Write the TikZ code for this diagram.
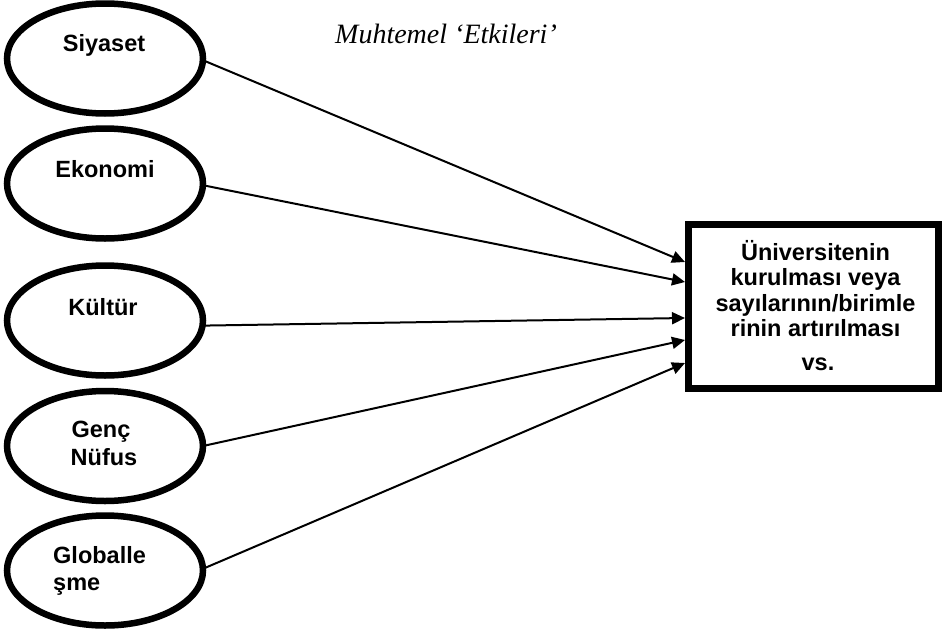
\documentclass[tikz,border=0pt]{standalone}
\usepackage{fontspec}
\setmainfont{Liberation Sans}
\newfontfamily\titlefont{Liberation Serif}
\usetikzlibrary{shapes.geometric,arrows.meta}
\tikzset{
  oval/.style={draw, ellipse, line width=6.5pt, minimum width=196pt, minimum height=110pt, inner sep=0pt, outer sep=0pt},
  target/.style={draw, rectangle, line width=6.5pt, minimum width=250pt, minimum height=164pt, inner sep=0pt, outer sep=0pt},
  lbl/.style={anchor=base, inner sep=0pt, font=\fontsize{23.5}{25}\selectfont\bfseries},
  lblw/.style={lbl, anchor=base west},
  arr/.style={line width=2pt, -{Triangle[length=13pt,width=12pt]}},
}
\begin{document}
\begin{tikzpicture}[x=1pt,y=-1pt]
\useasboundingbox (0,0) rectangle (942,632);
% title
\node[anchor=base west, inner sep=0pt, font=\fontsize{28}{30}\selectfont\titlefont\itshape] (title) at (335,43) {Muhtemel ‘Etkileri’};
% ellipses
\node[oval] (e1) at (105,58.5) {};
\node[oval] (e2) at (105,183.5) {};
\node[oval] (e3) at (105,320.5) {};
\node[oval] (e4) at (105,446) {};
\node[oval] (e5) at (105,570.5) {};
% ellipse labels
\node[lbl] (l1) at (104,51) {Siyaset};
\node[lbl] (l2) at (105,177) {Ekonomi};
\node[lbl] (l3) at (103,315) {Kültür};
\node[lbl] (l4a) at (101,437) {Genç};
\node[lbl] (l4b) at (104,465) {Nüfus};
\node[lblw] (l5a) at (53,563) {Globalle};
\node[lblw] (l5b) at (53,590) {şme};
% target box
\node[target] (box) at (813.5,306.5) {};
\node[lbl] (b1) at (815.5,260) {Üniversitenin};
\node[lbl] (b2) at (815.5,285) {kurulması veya};
\node[lbl] (b3) at (815.5,311) {sayılarının/birimle};
\node[lbl] (b4) at (815.5,336) {rinin artırılması};
\node[lbl] (b5) at (818,370) {vs.};
% arrow tips on the box border
\coordinate (a1) at (685,262);
\coordinate (a2) at (685,282);
\coordinate (a3) at (685,318);
\coordinate (a4) at (685,340);
\coordinate (a5) at (685,363);
% connectors
\draw[arr] (e1.-1) -- (a1);
\draw[arr] (e2.-1) -- (a2);
\draw[arr] (e3.-3) -- (a3);
\draw[arr] (e4.east) -- (a4);
\draw[arr] (e5.1) -- (a5);
\end{tikzpicture}
\end{document}
